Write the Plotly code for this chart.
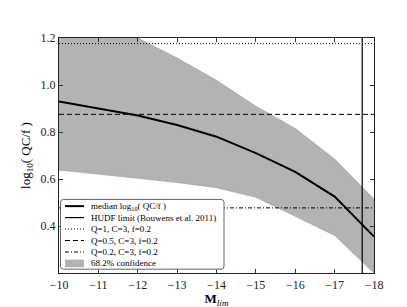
import numpy as np
import plotly.graph_objects as go

# Data
m_lim = [-10, -11, -12, -13, -14, -15, -16, -17, -18]
median = [0.93, 0.90, 0.87, 0.83, 0.78, 0.71, 0.63, 0.525, 0.355]
upper = [1.34, 1.27, 1.20, 1.115, 1.02, 0.91, 0.815, 0.685, 0.515]
lower = [0.638, 0.62, 0.603, 0.585, 0.563, 0.522, 0.441, 0.36, 0.20]
hudf_limit = -17.7
q_values = [1.0, 0.5, 0.2]
C = 3
f = 0.2
q_labels = ["Q=1, C=3, f=0.2", "Q=0.5, C=3, f=0.2", "Q=0.2, C=3, f=0.2"]
x_ticks = [-10, -11, -12, -13, -14, -15, -16, -17, -18]
y_ticks = [0.4, 0.6, 0.8, 1.0, 1.2]
x_range = [-10, -18]
y_range = [0.2, 1.2]

serif = "Liberation Serif, DejaVu Serif, serif"
BAND = "#b3b3b3"
DOT = "1px,2px"
DASH = "5px,3px"
DASHDOT = "4px,2px,1px,2px"
q_dashes = [DOT, DASH, DASHDOT]

W, H = 407, 307
ML, MR, MT, MB = 51, 41, 30, 31
PW, PH = W - ML - MR, H - MT - MB

fig = go.Figure()

# confidence band
fig.add_trace(go.Scatter(
    x=m_lim + m_lim[::-1], y=upper + lower[::-1],
    fill="toself", fillcolor=BAND, mode="lines",
    line=dict(color="#9a9a9a", width=0.6),
    name="68.2% confidence", hoverinfo="skip", showlegend=False))

# Q lines
for q, lab, d in zip(q_values, q_labels, q_dashes):
    v = float(np.log10(q * C / f))
    fig.add_trace(go.Scatter(
        x=x_range, y=[v, v], mode="lines",
        line=dict(color="black", width=1, dash=d),
        name=lab, showlegend=False))

# HUDF limit
fig.add_trace(go.Scatter(
    x=[hudf_limit, hudf_limit], y=y_range, mode="lines",
    line=dict(color="black", width=1.2),
    name="HUDF limit (Bouwens et al. 2011)", showlegend=False))

# median
fig.add_trace(go.Scatter(
    x=m_lim, y=median, mode="lines",
    line=dict(color="black", width=2),
    name="median log10( QC/f )", showlegend=False))

# ---- hand-drawn legend (matplotlib style) in paper coordinates ----
def px(xp):
    return (xp - ML) / PW

def py(yp):
    return (H - MB - yp) / PH

shapes = []
annotations = []

# rounded legend frame
bx0, bx1, by0, by1, r = 52.5, 216, 199, 272, 3
rx, ry = r / PW, r / PH
X0, X1, Y0, Y1 = px(bx0), px(bx1), py(by1), py(by0)
path = (f"M {X0+rx},{Y0} L {X1-rx},{Y0} Q {X1},{Y0} {X1},{Y0+ry} "
        f"L {X1},{Y1-ry} Q {X1},{Y1} {X1-rx},{Y1} "
        f"L {X0+rx},{Y1} Q {X0},{Y1} {X0},{Y1-ry} "
        f"L {X0},{Y0+ry} Q {X0},{Y0} {X0+rx},{Y0} Z")
shapes.append(dict(type="path", xref="paper", yref="paper", path=path,
                   fillcolor="white", line=dict(color="#666666", width=1),
                   layer="above"))

legend_items = [
    ("median log<sub>10</sub>( QC/f )", dict(color="black", width=2), None),
    ("HUDF limit (Bouwens et al. 2011)", dict(color="black", width=1.2), None),
    (q_labels[0], dict(color="black", width=1, dash=DOT), None),
    (q_labels[1], dict(color="black", width=1, dash=DASH), None),
    (q_labels[2], dict(color="black", width=1, dash=DASHDOT), None),
    ("68.2% confidence", None, BAND),
]
rows = [206, 218, 230, 242, 254, 266]
sx0, sx1, tx = 57, 76, 81
for (label, line, fill), yrow in zip(legend_items, rows):
    if line is not None:
        shapes.append(dict(type="line", xref="paper", yref="paper",
                           x0=px(sx0), x1=px(sx1), y0=py(yrow), y1=py(yrow),
                           line=line, layer="above"))
    else:
        shapes.append(dict(type="rect", xref="paper", yref="paper",
                           x0=px(sx0), x1=px(sx1), y0=py(yrow + 4), y1=py(yrow - 4),
                           fillcolor=fill, line=dict(width=0), layer="above"))
    annotations.append(dict(xref="paper", yref="paper", x=px(tx), y=py(yrow),
                            xanchor="left", yanchor="middle", showarrow=False,
                            text=label,
                            font=dict(family=serif, size=9, color="black")))

fig.update_layout(
    width=W, height=H,
    margin=dict(l=ML, r=MR, t=MT, b=MB),
    paper_bgcolor="white", plot_bgcolor="white",
    font=dict(family=serif, color="black", size=12),
    showlegend=False,
    shapes=shapes, annotations=annotations,
)

fig.update_xaxes(
    range=x_range, tickvals=x_ticks, ticktext=[f"\u2212{abs(t)}" for t in x_ticks],
    ticks="inside", ticklen=4, tickwidth=0.8, tickcolor="#333333",
    showline=True, linecolor="#222222", linewidth=1.2, mirror="ticks",
    showgrid=False, zeroline=False,
    tickfont=dict(family=serif, size=12, color="#222222"),
    title=dict(text="<b>M</b><sub><i>lim</i></sub>",
               font=dict(family=serif, size=13), standoff=2))

fig.update_yaxes(
    range=y_range, tickvals=y_ticks, ticktext=[f"{t:.1f}" for t in y_ticks],
    ticks="inside", ticklen=4, tickwidth=0.8, tickcolor="#333333",
    showline=True, linecolor="#222222", linewidth=1.2, mirror="ticks",
    showgrid=False, zeroline=False,
    tickfont=dict(family=serif, size=12, color="#222222"),
    title=dict(text="log<sub>10</sub>( QC/f )",
               font=dict(family=serif, size=13), standoff=6))

fig.write_html("out.html")
